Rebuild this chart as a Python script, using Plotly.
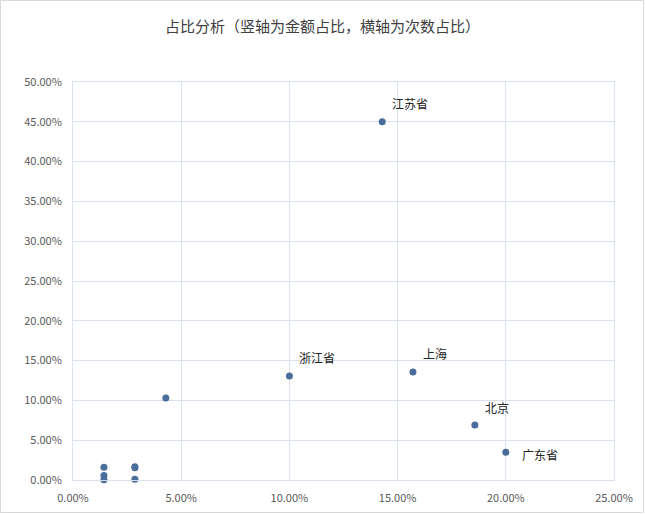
import plotly.graph_objects as go

# 次数占比 (x) / 金额占比 (y), in percent
names = ['江苏省', '浙江省', '上海', '北京', '广东省', '', '', '', '', '', '', '']
countShare = [14.29, 10.00, 15.71, 18.57, 20.00, 4.29, 1.43, 1.43, 1.43, 2.86, 2.86, 2.86]
amountShare = [45.00, 13.07, 13.57, 6.90, 3.50, 10.30, 1.60, 0.55, 0.02, 1.55, 1.65, 0.10]
# label placement: 'above' or 'right'
labelSide = ['above', 'above', 'above', 'above', 'right', '', '', '', '', '', '', '']

W, H = 645, 514
ml, mr, mt, mb = 73, 31, 82, 34
pw = W - ml - mr
ph = H - mt - mb

fig = go.Figure()
fig.add_trace(go.Scatter(
    x=[v / 100 for v in countShare],
    y=[v / 100 for v in amountShare],
    mode='markers',
    marker=dict(color='#4A6D9C', size=7),
    cliponaxis=False,
    showlegend=False,
))

#data labels
for n, xv, yv, side in zip(names, countShare, amountShare, labelSide):
    if not n:
        continue
    if side == 'right':
        xs, ys = 14, -2
    else:
        xs, ys = 8, 18
    fig.add_annotation(x=xv / 100, y=yv / 100, text=n, showarrow=False,
                       xanchor='left', yanchor='middle', xshift=xs, yshift=ys,
                       font=dict(family='Noto Sans CJK SC', size=12, color='#262626'))

gridc = '#D9E1EC'
fig.update_xaxes(range=[0, 0.25], dtick=0.05, tickformat='.2%', automargin=False,
                 showgrid=True, gridcolor=gridc, gridwidth=1,
                 zeroline=False, showline=True, linecolor=gridc, mirror=True,
                 ticks='', ticklabelstandoff=8, tickfont=dict(size=11, color='#595959'))
fig.update_yaxes(range=[0, 0.5], dtick=0.05, tickformat='.2%', automargin=False,
                 showgrid=True, gridcolor=gridc, gridwidth=1,
                 zeroline=False, showline=True, linecolor=gridc, mirror=True,
                 ticks='', ticklabelstandoff=8, tickfont=dict(size=11, color='#595959'))

#chart border like excel
fig.add_shape(type='rect', xref='paper', yref='paper',
              x0=-(ml - 0.5) / pw, x1=1 + (mr - 1.5) / pw,
              y0=-(mb - 1.5) / ph, y1=1 + (mt - 0.5) / ph,
              line=dict(color='#D9D9D9', width=1), layer='below')

fig.update_layout(
    width=W, height=H,
    margin=dict(l=ml, r=mr, t=mt, b=mb),
    paper_bgcolor='white', plot_bgcolor='white',
    font=dict(family='Noto Sans CJK SC', color='#595959'),
    title=dict(text='占比分析（竖轴为金额占比，横轴为次数占比）',
               x=0.5, xanchor='center', y=1 - 27 / H, yanchor='middle',
               font=dict(size=15, color='#404040')),
)

fig.write_html('out.html', config={'displayModeBar': False},
               post_script="document.body.style.margin='0';")
